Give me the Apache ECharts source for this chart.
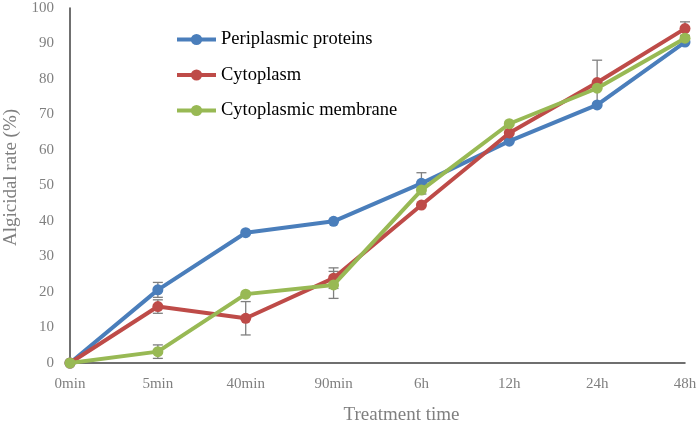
<!DOCTYPE html>
<html>
<head>
<meta charset="utf-8">
<script src="https://cdn.jsdelivr.net/npm/echarts@6/dist/echarts.min.js"></script>
<style>html,body{margin:0;padding:0;background:#fff}#c{width:700px;height:423px}</style>
</head>
<body>
<div id="c"></div>
<script>
const categories = ['0min', '5min', '40min', '90min', '6h', '12h', '24h', '48h'];
const periplasmic = [0, 20.6, 36.7, 39.9, 50.6, 62.5, 72.7, 90.4];
const cytoplasm = [0, 15.9, 12.6, 23.9, 44.5, 64.8, 79.0, 94.2];
const membrane = [0, 3.2, 19.4, 22.0, 48.7, 67.4, 77.4, 91.5];
const periplasmicErr = [0, 2.1, 0, 0, 3.0, 0, 0, 0];
const cytoplasmErr = [0, 1.9, 4.7, 2.9, 0, 0, 6.3, 1.9];
const membraneErr = [0, 1.9, 0, 3.8, 0, 0, 0, 0];
const yTicks = [0, 10, 20, 30, 40, 50, 60, 70, 80, 90, 100];

const FONT = '"Liberation Serif", "Times New Roman", serif';
const GREY = '#7f7f7f';

function errSeries(vals, errs, z) {
  const data = [];
  vals.forEach((v, i) => { if (errs[i] > 0) data.push([i, v - errs[i], v + errs[i]]); });
  return {
    type: 'custom', z: z, silent: true,
    data: data,
    renderItem: function (params, api) {
      const lo = api.coord([api.value(0), api.value(1)]);
      const hi = api.coord([api.value(0), api.value(2)]);
      const w = 5;
      const st = { stroke: GREY, lineWidth: 1.3 };
      return {
        type: 'group',
        children: [
          { type: 'line', shape: { x1: lo[0], y1: lo[1], x2: hi[0], y2: hi[1] }, style: st },
          { type: 'line', shape: { x1: lo[0] - w, y1: lo[1], x2: lo[0] + w, y2: lo[1] }, style: st },
          { type: 'line', shape: { x1: hi[0] - w, y1: hi[1], x2: hi[0] + w, y2: hi[1] }, style: st }
        ]
      };
    }
  };
}

function lineSeries(name, data, color, z) {
  return {
    name: name, type: 'line', data: data, z: z,
    symbol: 'circle', symbolSize: 11,
    lineStyle: { color: color, width: 4 },
    itemStyle: { color: color },
    emphasis: { disabled: true }
  };
}

const chart = echarts.init(document.getElementById('c'));
chart.setOption({
  animation: false,
  textStyle: { fontFamily: FONT },
  grid: { left: 70, right: 15, top: 8, bottom: 60, containLabel: false, outerBoundsMode: 'none' },
  legend: {
    orient: 'vertical', left: 170, top: 25,
    itemWidth: 39, itemHeight: 14, itemGap: 16.5,
    lineStyle: { width: 4 },
    textStyle: { fontFamily: FONT, fontSize: 18.5, color: '#000' },
    data: ['Periplasmic proteins', 'Cytoplasm', 'Cytoplasmic membrane']
  },
  xAxis: {
    type: 'category', data: categories, boundaryGap: false,
    name: 'Treatment time', nameLocation: 'middle', nameGap: 43,
    nameTextStyle: { fontFamily: FONT, fontSize: 19, color: GREY, padding: [0, 0, 0, 48] },
    axisLine: { lineStyle: { color: '#404040', width: 1.5 } },
    axisTick: { show: false },
    axisLabel: { fontFamily: FONT, fontSize: 15, color: GREY, margin: 14 },
    splitLine: { show: false }
  },
  yAxis: {
    type: 'value', min: yTicks[0], max: yTicks[yTicks.length - 1], interval: 10,
    name: 'Algicidal rate (%)', nameLocation: 'middle', nameGap: 44,
    nameTextStyle: { fontFamily: FONT, fontSize: 19, color: GREY, padding: [0, 0, 0, 16] },
    axisLine: { show: true, lineStyle: { color: '#404040', width: 1.5 } },
    axisTick: { show: false },
    axisLabel: { fontFamily: FONT, fontSize: 15, color: GREY, margin: 16 },
    splitLine: { show: false }
  },
  series: [
    errSeries(periplasmic, periplasmicErr, 1),
    errSeries(cytoplasm, cytoplasmErr, 1),
    errSeries(membrane, membraneErr, 1),
    lineSeries('Periplasmic proteins', periplasmic, '#4a7ebb', 2),
    lineSeries('Cytoplasm', cytoplasm, '#be4b48', 3),
    lineSeries('Cytoplasmic membrane', membrane, '#98b954', 4)
  ]
});
</script>
</body>
</html>
